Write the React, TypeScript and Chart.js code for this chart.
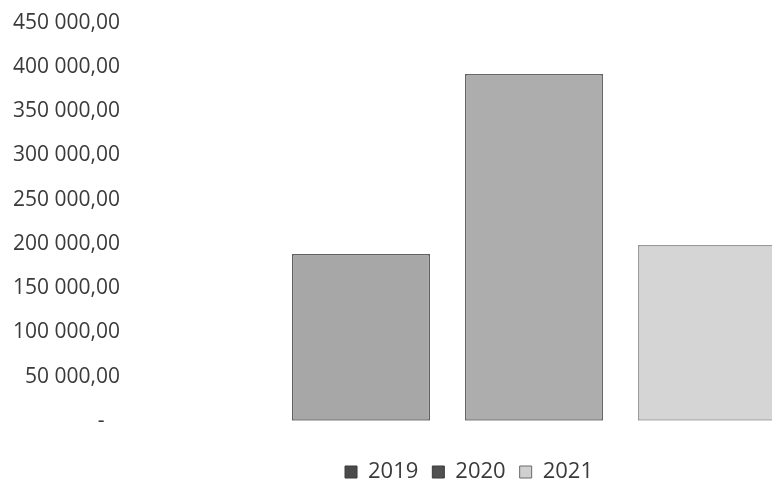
import React, { useEffect, useRef } from "react";
import { Chart, registerables } from "chart.js";

Chart.register(...registerables);

const categories: string[] = [""];
const seriesLabels: string[] = ["2019", "2020", "2021"];
const values2019: number[] = [188400];
const values2020: number[] = [392000];
const values2021: number[] = [198600];
const yTicks: number[] = [0, 50000, 100000, 150000, 200000, 250000, 300000, 350000, 400000, 450000];

const FONT = "'Open Sans', 'Noto Sans', sans-serif";

function formatTick(v: number): string {
  if (v === 0) return "-\u2007\u2009";
  const [intPart, dec] = v.toFixed(2).split(".");
  const grouped = intPart.replace(/\B(?=(\d{3})+(?!\d))/g, " ");
  return grouped + "," + dec;
}

export default function App() {
  const ref = useRef<HTMLCanvasElement | null>(null);

  useEffect(() => {
    if (!ref.current) return;
    const fills = ["#a7a7a7", "#adadad", "#d5d5d5"];
    const borders = ["#606060", "#666666", "#9a9a9a"];
    const swatches = ["#4a4a4a", "#505050", "#d0d0d0"];
    const swatchBorders = ["#3a3a3a", "#3a3a3a", "#6a6a6a"];
    const seriesValues = [values2019, values2020, values2021];
    const chart = new Chart(ref.current, {
      type: "bar",
      data: {
        labels: categories,
        datasets: seriesLabels.map((label, i) => ({
          label,
          data: seriesValues[i],
          backgroundColor: fills[i],
          borderColor: borders[i],
          borderWidth: 1.5,
          borderSkipped: false,
          categoryPercentage: 0.6423,
          barPercentage: 0.798,
        })),
      },
      options: {
        responsive: false,
        animation: false,
        devicePixelRatio: 1,
        layout: { padding: { top: 22, left: 0, right: 0, bottom: 0 } },
        scales: {
          x: { display: false },
          y: {
            min: 0,
            max: 450000,
            afterBuildTicks: (scale: any) => {
              scale.ticks = yTicks.map((v) => ({ value: v }));
            },
            afterFit: (scale: any) => {
              scale.width = 130;
            },
            grid: { display: false, drawTicks: false },
            border: { display: false },
            ticks: {
              padding: 10,
              color: "#3a3a3a",
              font: { family: FONT, size: 21 },
              callback: (v: any) => formatTick(Number(v)),
            },
          },
        },
        plugins: {
          tooltip: { enabled: false },
          legend: {
            position: "bottom",
            title: {
              display: true,
              text: "",
              font: { size: 1 },
              padding: { top: 25, bottom: 0 },
            },
            labels: {
              padding: 14,
              boxWidth: 12,
              boxHeight: 12,
              color: "#3a3a3a",
              font: { family: FONT, size: 22 },
              generateLabels: (c: any) => {
                const base = Chart.defaults.plugins.legend.labels.generateLabels(c);
                return base.map((item: any, i: number) => ({
                  ...item,
                  fillStyle: swatches[i],
                  strokeStyle: swatchBorders[i],
                  lineWidth: 1,
                }));
              },
            },
          },
        },
      },
    });
    return () => chart.destroy();
  }, []);

  return (
    <div
      style={{
        position: "fixed",
        left: 0,
        top: 0,
        width: 772,
        height: 481,
        overflow: "hidden",
        background: "#ffffff",
      }}
    >
      <canvas ref={ref} width={938} height={493} style={{ width: 938, height: 493, display: "block" }} />
    </div>
  );
}
